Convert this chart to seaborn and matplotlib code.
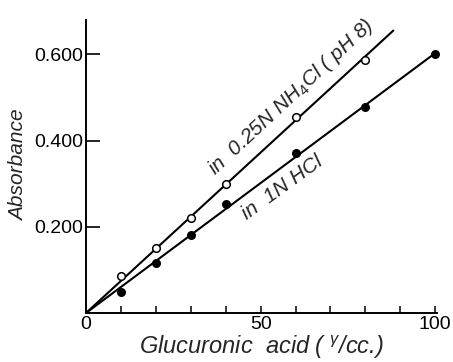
import numpy as np
import pandas as pd
import matplotlib
matplotlib.use("Agg")
import matplotlib.pyplot as plt
import seaborn as sns

# ---- data ----
nh4_x = [10, 20, 30, 40, 60, 80]
nh4_y = [0.086, 0.151, 0.220, 0.299, 0.456, 0.588]
hcl_x = [10, 20, 30, 40, 60, 80, 100]
hcl_y = [0.049, 0.116, 0.180, 0.253, 0.371, 0.477, 0.600]
nh4_line_x = [0, 88]
hcl_line_x = [0, 100]
nh4_label = "in  0.25N NH$_4$Cl ( pH 8)"
hcl_label = "in  1N HCl"
x_ticks = [0, 10, 20, 30, 40, 50, 60, 70, 80, 90, 100]
x_ticklabels = ["0", "", "", "", "", "50", "", "", "", "", "100"]
y_ticks = [0.2, 0.4, 0.6]
y_ticklabels = ["0.200", "0.400", "0.600"]
x_label = "Glucuronic  acid ( $^{\\gamma}$/cc.)"
y_label = "Absorbance"

sns.set_theme(style="ticks")
fam = "Liberation Sans"
plt.rcParams["font.family"] = [fam, "DejaVu Sans"]
plt.rcParams["mathtext.fontset"] = "custom"
plt.rcParams["mathtext.rm"] = fam
plt.rcParams["mathtext.it"] = fam + ":italic"

fig = plt.figure(figsize=(4.53, 3.62), dpi=100)
ax = fig.add_axes([86 / 453, 1 - 313 / 362, 351 / 453, 293 / 362])

# fitted lines through origin
def fit_slope(x, y):
    x = np.asarray(x, float); y = np.asarray(y, float)
    return (x * y).sum() / (x * x).sum()

s1 = fit_slope(nh4_x, nh4_y)
s2 = fit_slope(hcl_x, hcl_y)
line_df = pd.DataFrame({
    "x": nh4_line_x + hcl_line_x,
    "y": [s1 * v for v in nh4_line_x] + [s2 * v for v in hcl_line_x],
    "g": ["a", "a", "b", "b"],
})
sns.lineplot(data=line_df, x="x", y="y", units="g", estimator=None,
             color="black", linewidth=1.5, ax=ax, clip_on=False)

sns.scatterplot(x=nh4_x, y=nh4_y, ax=ax, marker="o", s=30,
                facecolor="white", edgecolor="black", linewidth=1.1, zorder=3, clip_on=False)
sns.scatterplot(x=hcl_x, y=hcl_y, ax=ax, marker="o", s=30,
                color="black", edgecolor="black", linewidth=1.0, zorder=3, clip_on=False)

ax.set_xlim(0, 100.5)
ax.set_ylim(0, 0.68)
sns.despine(ax=ax)
for sp in ["left", "bottom"]:
    ax.spines[sp].set_linewidth(1.4)
    ax.spines[sp].set_color("black")

ax.set_xticks(x_ticks)
ax.set_xticklabels(x_ticklabels, fontsize=14)
ax.set_yticks(y_ticks)
ax.set_yticklabels(y_ticklabels, fontsize=14)
ax.tick_params(axis="x", direction="in", length=5, width=1.1, pad=2, colors="black")
ax.tick_params(axis="y", direction="in", length=10, width=1.2, pad=2, colors="black")

ax.set_xlabel(x_label, fontsize=17, style="italic", labelpad=1)
ax.set_ylabel(y_label, fontsize=15, style="italic")
ax.yaxis.set_label_coords(-0.165, 0.505)

ax.text(58.7, 0.50, nh4_label, rotation=43, ha="center", va="center",
        rotation_mode="anchor", fontsize=15, style="italic")
ax.text(56.2, 0.292, hcl_label, rotation=36, ha="center", va="center",
        rotation_mode="anchor", fontsize=15, style="italic")

fig.savefig("out.png", dpi=100)
